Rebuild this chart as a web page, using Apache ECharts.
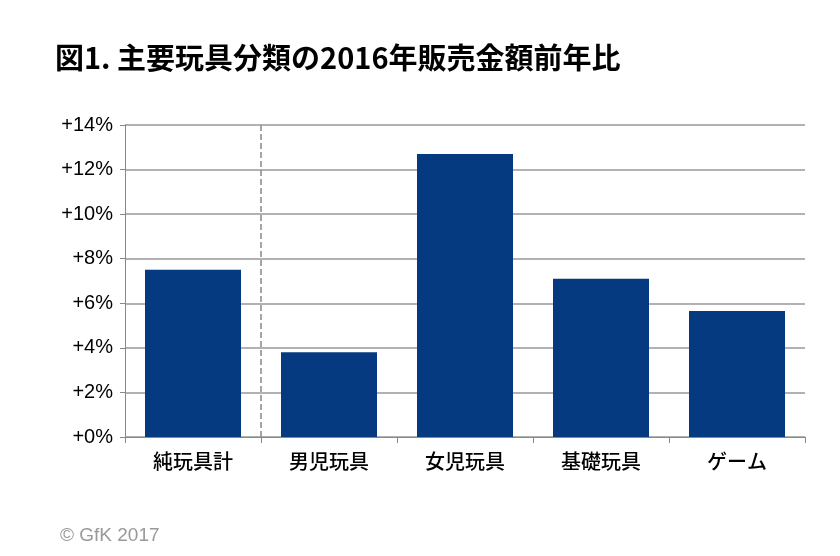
<!DOCTYPE html>
<html><head><meta charset="utf-8">
<script src="https://cdn.jsdelivr.net/npm/echarts@6/dist/echarts.min.js"></script>
<style>body{margin:0}#c{width:840px;height:556px}</style></head>
<body><div id="c"></div>
<script>
const categories = ['純玩具計','男児玩具','女児玩具','基礎玩具','ゲーム'];
const values = [7.5, 3.8, 12.7, 7.1, 5.65];
const yTicks = [0,2,4,6,8,10,12,14];
const font = '"Noto Sans CJK JP", sans-serif';
const chart = echarts.init(document.getElementById('c'));
chart.setOption({
  animation:false,
  backgroundColor:'#fff',
  title:{text:'図1. 主要玩具分類の2016年販売金額前年比',left:50,top:38,textStyle:{fontFamily:font,fontSize:29,fontWeight:'bold',color:'#000'}},
  graphic:[{type:'text',left:60,top:526,style:{text:'© GfK 2017',fontFamily:'Arial, "Liberation Sans"',fontSize:19,fill:'#999'}}],
  grid:{left:125,right:35,top:125,bottom:119},
  xAxis:[{type:'category',data:categories,axisLine:{lineStyle:{color:'#888'}},axisTick:{show:true,length:6,lineStyle:{color:'#888'}},
    axisLabel:{fontFamily:font,fontSize:20,fontWeight:500,color:'#000',margin:14}},
    {type:'value',min:0,max:5,show:false}],
  yAxis:{type:'value',min:0,max:14,interval:2,axisLine:{show:true,lineStyle:{color:'#888'}},axisTick:{show:true,length:5,lineStyle:{color:'#888'}},
    splitLine:{lineStyle:{color:'#999',width:1.5}},
    axisLabel:{fontFamily:'Arial, "Liberation Sans"',fontSize:20,color:'#000',margin:12,formatter:v=>yTicks.includes(v)?'+'+v+'%':''}},
  series:[
    {type:'bar',data:values,barWidth:96,itemStyle:{color:'#063a80'}},
    {type:'line',xAxisIndex:1,data:[],markLine:{symbol:'none',silent:true,label:{show:false},
      lineStyle:{type:'dashed',color:'#888',width:1.5},data:[{xAxis:1}]}}
  ]
});
</script></body></html>
